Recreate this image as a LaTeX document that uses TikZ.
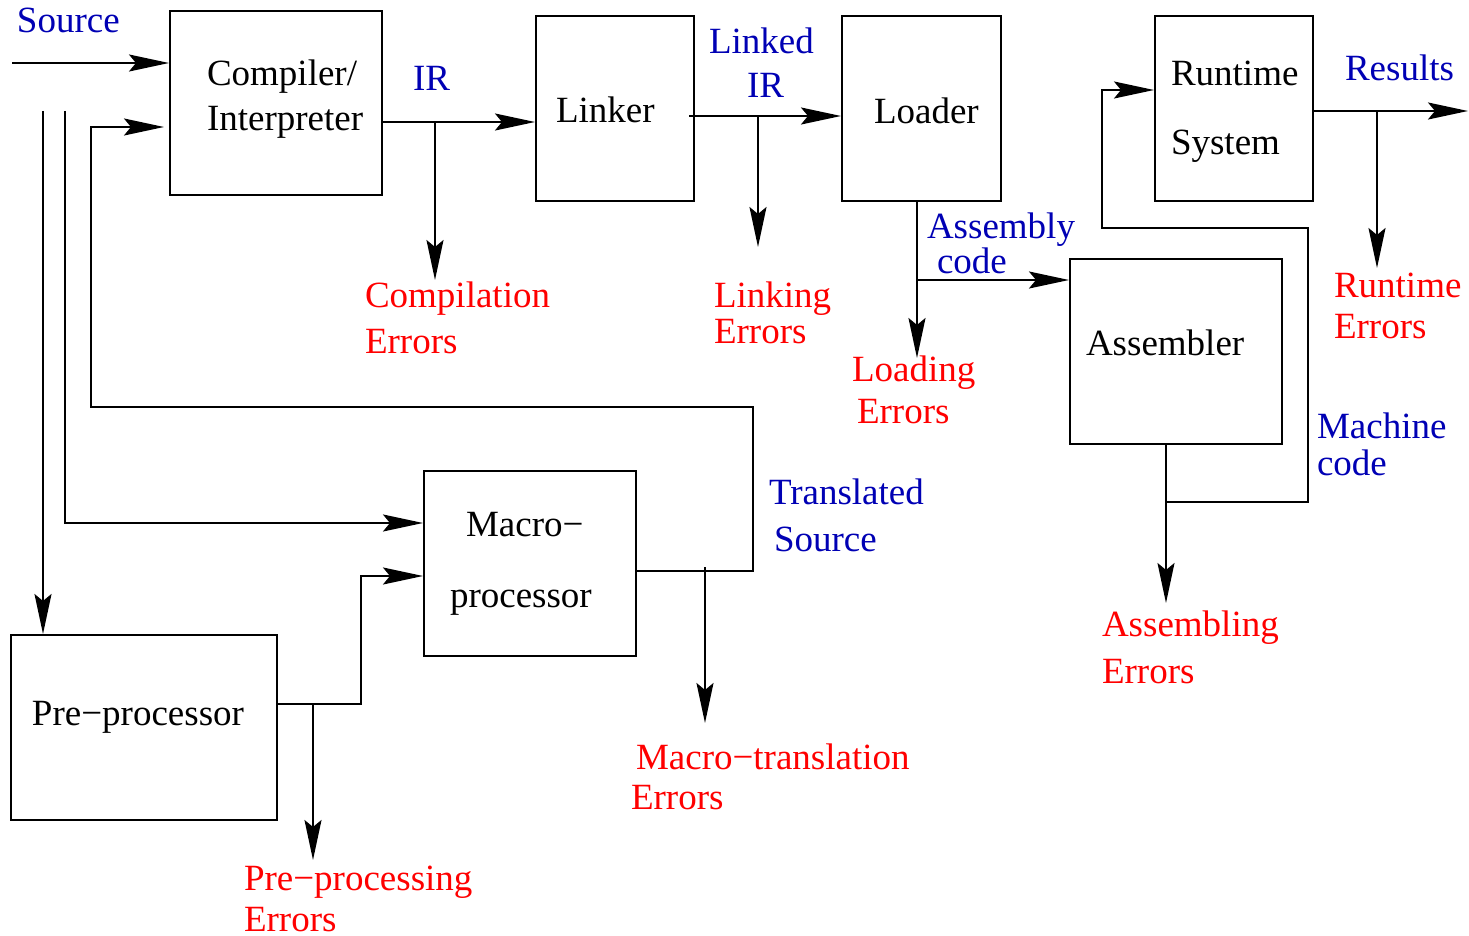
\documentclass[tikz,border=0pt]{standalone}
\usepackage{fontspec}
\setmainfont{Liberation Serif}
\usetikzlibrary{arrows.meta,fit}
\definecolor{lblblue}{RGB}{0,0,180}
\definecolor{errred}{RGB}{255,0,0}
\begin{document}
\begin{tikzpicture}[x=0.5pt,y=-0.5pt,
  line width=1pt,
  box/.style={draw, inner sep=0pt, line width=1pt},
  arr/.style={-{Stealth[length=20pt,width=8.5pt,inset=3.5pt]}},
  txt/.style={anchor=base west, inner sep=0pt, xshift=-1pt, yshift=-0.5pt,
    font=\fontsize{18.5}{22}\selectfont},
  stage/.style={txt, text=black},
  data/.style={txt, text=lblblue},
  err/.style={txt, text=errred},
]
\useasboundingbox (0,0) rectangle (1469,936);

% processing stages
\node[box, fit={(170,11) (382,195)}] (comp) {};
\node[box, fit={(536,16) (694,201)}] (link) {};
\node[box, fit={(842,16) (1001,201)}] (load) {};
\node[box, fit={(1155,16) (1313,201)}] (rt) {};
\node[box, fit={(1070,259) (1282,444)}] (asm) {};
\node[box, fit={(424,471) (636,656)}] (macro) {};
\node[box, fit={(11,635) (277,820)}] (pre) {};

\node[stage] (compA) at (208,85) {Compiler/};
\node[stage] (compB) at (208,130) {Interpreter};
\node[stage] (linkT) at (557,122) {Linker};
\node[stage] (loadT) at (875,123) {Loader};
\node[stage] (rtA) at (1172,85) {Runtime};
\node[stage] (rtB) at (1172,154) {System};
\node[stage] (asmT) at (1087,355) {Assembler};
\node[stage] (macroA) at (467,536) {Macro−};
\node[stage] (macroB) at (451,606) {processor};
\node[stage] (preT) at (33,724) {Pre−processor};

% data flowing between stages
\node[data] (srcL) at (18,32) {Source};
\node[data] (irL) at (414,90) {IR};
\node[data] (lirA) at (710,53) {Linked};
\node[data] (lirB) at (748,97) {IR};
\node[data] (acA) at (928,238) {Assembly};
\node[data] (acB) at (938,273) {code};
\node[data] (resL) at (1346,80) {Results};
\node[data] (mcA) at (1318,438) {Machine};
\node[data] (mcB) at (1318,475) {code};
\node[data] (tsA) at (770,503) {Translated};
\node[data] (tsB) at (775,551) {Source};

% error outputs
\node[err] (ceA) at (366,307) {Compilation};
\node[err] (ceB) at (366,353) {Errors};
\node[err] (leA) at (715,307) {Linking};
\node[err] (leB) at (715,343) {Errors};
\node[err] (ldA) at (853,381) {Loading};
\node[err] (ldB) at (858,423) {Errors};
\node[err] (reA) at (1335,297) {Runtime};
\node[err] (reB) at (1335,338) {Errors};
\node[err] (aeA) at (1103,635) {Assembling};
\node[err] (aeB) at (1103,682) {Errors};
\node[err] (meA) at (637,768) {Macro−translation};
\node[err] (meB) at (632,808) {Errors};
\node[err] (peA) at (245,889) {Pre−processing};
\node[err] (peB) at (245,930) {Errors};

% source inputs
\coordinate (srcIn) at (12,63);
\coordinate (srcPre) at (43,111);
\coordinate (srcMac) at (65,111);
\draw[arr] (srcIn) -- (comp.west |- srcIn);
\draw[arr] (srcPre) -- (srcPre |- pre.north);
\draw[arr] (srcMac) |- (macro.west |- 0,523);

% compiler -> linker
\coordinate (irSplit) at (435,122);
\coordinate (ceTip) at (435,280);
\draw[arr] (comp.east |- irSplit) -- (link.west |- irSplit);
\draw[arr] (irSplit) -- (ceTip);

% linker -> loader
\coordinate (linkOut) at (689,116);
\coordinate (lirSplit) at (758,116);
\coordinate (leTip) at (758,247);
\draw[arr] (linkOut) -- (load.west |- linkOut);
\draw[arr] (lirSplit) -- (leTip);

% loader -> assembler
\coordinate (ldTip) at (917,358);
\coordinate (acSplit) at (917,280);
\draw[arr] (load.south -| ldTip) -- (ldTip);
\draw[arr] (acSplit) -- (asm.west |- acSplit);

% assembler -> runtime system
\coordinate (aeTip) at (1166,603);
\coordinate (mcSplit) at (1166,502);
\coordinate (mcRight) at (1308,228);
\coordinate (mcLeft) at (1102,90);
\draw[arr] (asm.south -| aeTip) -- (aeTip);
\draw[arr] (mcSplit) -| (mcRight) -| (mcLeft) -- (rt.west |- mcLeft);

% runtime system outputs
\coordinate (resEnd) at (1468,111);
\coordinate (resSplit) at (1377,111);
\coordinate (reTip) at (1377,268);
\draw[arr] (rt.east |- resEnd) -- (resEnd);
\draw[arr] (resSplit) -- (reTip);

% pre-processor -> macro-processor
\coordinate (preSplit) at (313,704);
\coordinate (peTip) at (313,860);
\coordinate (preBend) at (361,576);
\draw[arr] (pre.east |- preSplit) -| (preBend) -- (macro.west |- preBend);
\draw[arr] (preSplit) -- (peTip);

% macro-processor -> compiler (translated source)
\coordinate (tsBend) at (753,407);
\coordinate (tsLeft) at (91,127);
\coordinate (tsEnd) at (164,127);
\coordinate (meStart) at (705,567);
\coordinate (meTip) at (705,723);
\draw[arr] (macro.east |- 0,571) -| (tsBend) -| (tsLeft) -- (tsEnd);
\draw[arr] (meStart) -- (meTip);
\end{tikzpicture}
\end{document}
